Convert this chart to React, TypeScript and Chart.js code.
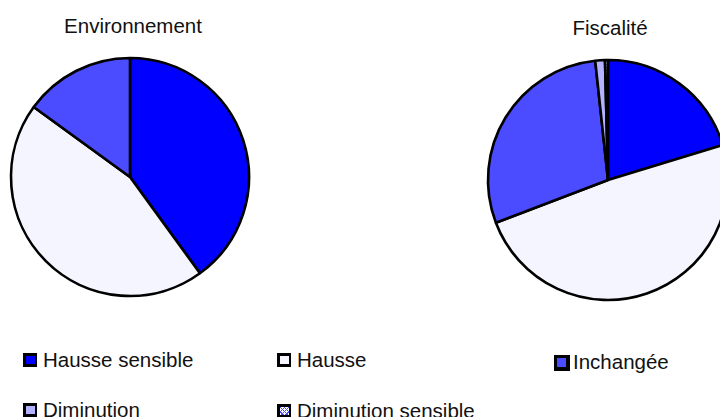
import React, { useEffect, useRef } from "react";
import { Chart, registerables } from "chart.js";

Chart.register(...registerables);

const categories = ["Hausse sensible", "Hausse", "Inchangée", "Diminution", "Diminution sensible"];
const environnementValues = [40, 45, 15, 0, 0];
const fiscaliteValues = [20.3, 48.9, 29.1, 1.3, 0.4];
const chartTitles = ["Environnement", "Fiscalité"];
const sliceColors = ["#0000FF", "#F5F5FF", "#4B4BFF", "#B3B3FF", "pattern"];

const FONT = '"Liberation Sans", Arial, Helvetica, sans-serif';

function makePattern(): CanvasPattern | string {
  const c = document.createElement("canvas");
  c.width = 6;
  c.height = 6;
  const ctx = c.getContext("2d");
  if (!ctx) return "#FFFFFF";
  ctx.fillStyle = "#FFFFFF";
  ctx.fillRect(0, 0, 6, 6);
  ctx.strokeStyle = "#4B4BFF";
  ctx.lineWidth = 1;
  ctx.beginPath();
  ctx.moveTo(0, 0);
  ctx.lineTo(6, 6);
  ctx.moveTo(6, 0);
  ctx.lineTo(0, 6);
  ctx.stroke();
  const p = ctx.createPattern(c, "repeat");
  return p || "#FFFFFF";
}

function Pie(props: { values: number[]; cx: number; cy: number; radius: number }) {
  const ref = useRef<HTMLCanvasElement | null>(null);
  const size = 2 * props.radius + 12;
  useEffect(() => {
    if (!ref.current) return;
    const pattern = makePattern();
    const colors = sliceColors.map((c) => (c === "pattern" ? pattern : c));
    const chart = new Chart(ref.current, {
      type: "pie",
      data: {
        labels: categories,
        datasets: [
          {
            data: props.values,
            backgroundColor: colors as any,
            borderColor: "#000000",
            borderWidth: 2.6,
            borderAlign: "center",
          },
        ],
      },
      options: {
        responsive: false,
        animation: false,
        devicePixelRatio: 1,
        events: [],
        radius: props.radius,
        layout: { padding: 0 },
        plugins: {
          legend: { display: false },
          tooltip: { enabled: false },
          title: { display: false },
        },
      } as any,
    });
    return () => chart.destroy();
  }, []);
  return (
    <canvas
      ref={ref}
      width={size}
      height={size}
      style={{
        position: "absolute",
        left: props.cx - size / 2,
        top: props.cy - size / 2,
        width: size,
        height: size,
      }}
    />
  );
}

const textStyle: React.CSSProperties = {
  position: "absolute",
  fontFamily: FONT,
  fontSize: "20.5px",
  lineHeight: "20px",
  color: "#111",
  whiteSpace: "nowrap",
};

const hatch =
  "repeating-linear-gradient(45deg, transparent 0 2px, #4B4BFF 2px 3px), repeating-linear-gradient(-45deg, #FFFFFF 0 2px, #4B4BFF 2px 3px)";

function LegendItem(props: { x: number; baseline: number; index: number; big?: boolean }) {
  const c = sliceColors[props.index];
  const bg = c === "pattern" ? hatch : c;
  const size = props.big ? 16 : 14;
  return (
    <>
      <div
        style={{
          position: "absolute",
          left: props.x,
          top: props.baseline - 14,
          width: size,
          height: size,
          boxSizing: "border-box",
          border: "3px solid #000",
          borderRightWidth: props.big ? 4 : 2,
          borderBottomWidth: props.big ? 4 : 3,
          background: bg,
        }}
      />
      <div style={{ ...textStyle, left: props.x + (props.big ? 19 : 20), top: props.baseline - 17 }}>
        {categories[props.index]}
      </div>
    </>
  );
}

export default function App() {
  useEffect(() => {
    document.body.style.margin = "0";
  }, []);
  return (
    <div
      style={{
        position: "fixed",
        left: 0,
        top: 0,
        width: 720,
        height: 417,
        overflow: "hidden",
        background: "#FFFFFF",
      }}
    >
      <Pie values={environnementValues} cx={130} cy={177} radius={119} />
      <Pie values={fiscaliteValues} cx={608} cy={180} radius={120} />
      <div style={{ ...textStyle, left: 133, top: 16, transform: "translateX(-50%)" }}>{chartTitles[0]}</div>
      <div style={{ ...textStyle, left: 610, top: 18, transform: "translateX(-50%)" }}>{chartTitles[1]}</div>
      <LegendItem x={23} baseline={367} index={0} />
      <LegendItem x={277} baseline={367} index={1} />
      <LegendItem x={554} baseline={369} index={2} big />
      <LegendItem x={23} baseline={417} index={3} />
      <LegendItem x={277} baseline={418} index={4} />
    </div>
  );
}
